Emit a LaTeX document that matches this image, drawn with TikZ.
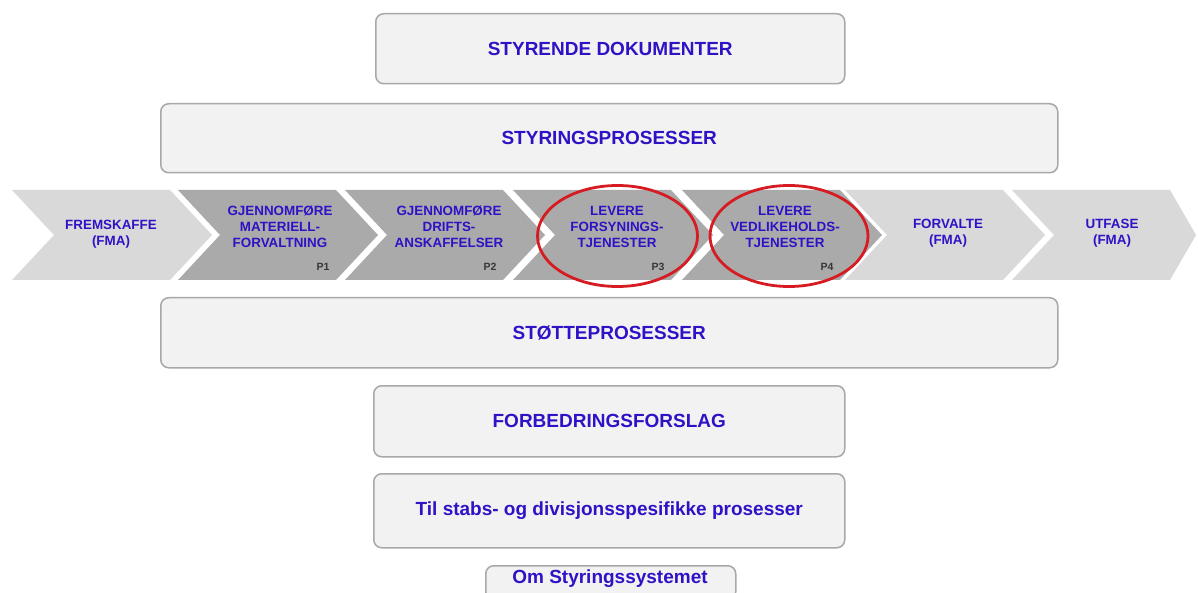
\documentclass[tikz,border=0pt]{standalone}
\usepackage{fontspec}
\setmainfont{Liberation Sans}
\usetikzlibrary{shapes.geometric}

\definecolor{txtblue}{RGB}{46,18,198}
\definecolor{boxfill}{RGB}{242,242,242}
\definecolor{boxline}{RGB}{168,168,168}
\definecolor{chevlight}{RGB}{217,217,217}
\definecolor{chevdark}{RGB}{170,170,170}
\definecolor{ringred}{RGB}{214,28,34}
\definecolor{tagdark}{RGB}{55,55,55}

\begin{document}
\begin{tikzpicture}[x=1pt,y=-1pt,
  panel/.style={draw=boxline, line width=1.5pt, fill=boxfill, rounded corners=8pt,
    anchor=north west, inner sep=0pt},
  paneltext/.style={text=txtblue, inner sep=0pt,
    font=\bfseries\fontsize{19}{22}\selectfont},
  chevlabel/.style={text=txtblue, align=center, inner sep=0pt,
    font=\bfseries\fontsize{13.4}{15.8}\selectfont},
  ptag/.style={text=tagdark, inner sep=0pt, font=\bfseries\fontsize{10.5}{11}\selectfont},
  ring/.style={draw=ringred, line width=2.8pt, ellipse, inner sep=0pt}
]
% canvas
\fill[white] (0,0) rectangle (1198,593);
\clip (0,0) rectangle (1198,593);

% process chain: chevrons (start x, fill colour, tip depth)
\foreach \s/\c/\d in {12/chevlight/42, 178/chevdark/42, 345/chevdark/42,
                      513/chevdark/42, 682/chevdark/42, 845/chevlight/42,
                      1012/chevlight/26}{
  \fill[\c] (\s,190) -- ++(158,0) -- ++(\d,45) -- ++(-\d,45) -- (\s,280)
            -- ++(42,-45) -- cycle;
}

% chevron texts
\node[chevlabel] (fremskaffe) at (111,234.5) {FREMSKAFFE\\(FMA)};
\node[chevlabel] (p1text) at (280,227) {GJENNOMFØRE\\MATERIELL-\\FORVALTNING};
\node[chevlabel] (p2text) at (449,227) {GJENNOMFØRE\\DRIFTS-\\ANSKAFFELSER};
\node[chevlabel] (p3text) at (617,227) {LEVERE\\FORSYNINGS-\\TJENESTER};
\node[chevlabel] (p4text) at (785,227) {LEVERE\\VEDLIKEHOLDS-\\TJENESTER};
\node[chevlabel] (forvalte) at (948,233) {FORVALTE\\(FMA)};
\node[chevlabel] (utfase) at (1112,233) {UTFASE\\(FMA)};

% process numbers
\node[ptag] (p1) at (323,267) {P1};
\node[ptag] (p2) at (490,267) {P2};
\node[ptag] (p3) at (658,267) {P3};
\node[ptag] (p4) at (827,267) {P4};

% highlighted processes
\node[ring, minimum width=160pt, minimum height=101pt] (ring3) at (617.5,236) {};
\node[ring, minimum width=158pt, minimum height=101pt] (ring4) at (789,236) {};

% panels
\node[panel, minimum width=469pt, minimum height=70pt] (styrende) at (375,13) {};
\node[paneltext] (styrendetext) at (styrende.center) {STYRENDE DOKUMENTER};

\node[panel, minimum width=897pt, minimum height=69pt] (styring) at (160,103) {};
\node[paneltext] (styringtext) at (styring.center) {STYRINGSPROSESSER};

\node[panel, minimum width=897pt, minimum height=70pt] (stotte) at (160,297) {};
\node[paneltext] (stottetext) at (stotte.center) {STØTTEPROSESSER};

\node[panel, minimum width=471pt, minimum height=71pt] (forbedring) at (373,385) {};
\node[paneltext] (forbedringtext) at (forbedring.center) {FORBEDRINGSFORSLAG};

\node[panel, minimum width=471pt, minimum height=74pt] (stabs) at (373,473) {};
\node[paneltext] (stabstext) at (stabs.center) {Til stabs- og divisjonsspesifikke prosesser};

\node[panel, minimum width=250pt, minimum height=34pt] (om) at (485,565) {};
\node[paneltext] (omtext) at (610,578.5) {Om Styringssystemet};
\end{tikzpicture}
\end{document}
